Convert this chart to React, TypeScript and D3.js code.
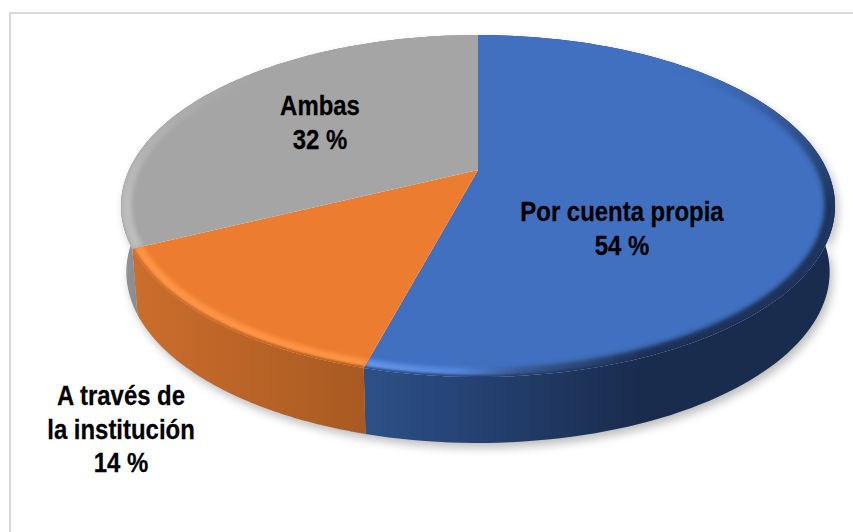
import React from "react";
import * as d3 from "d3";

const categories = ["Por cuenta propia", "A través de la institución", "Ambas"];
const values = [54.2, 13.6, 32.2];
const topColors = ["#4170C0", "#EC7C30", "#A5A5A5"];
const labelLines = [["Por cuenta propia", "54 %"], ["A través de", "la institución", "14 %"], ["Ambas", "32 %"]];
const labelAnchors: [number, number][] = [[622, 221], [121, 405], [320, 115]];

const W = 853, H = 532;
const cx = 478, rx = 357, depth = 66;
// Perspective map of the pie's unit circle onto the tilted ellipse
const c = -0.2105, a = 127.6, b = 170, k = rx * Math.sqrt(1 - c * c);
const apexY = b;

function project(angle: number, r = 1): [number, number] {
  const xp = r * Math.sin(angle), yp = -r * Math.cos(angle);
  const w = c * yp + 1;
  return [cx + (k * xp) / w, (a * yp + b) / w];
}
const arcPoints = (a0: number, a1: number, r = 1) =>
  d3.range(0, 1.0001, 1 / 120).map((t) => project(a0 + (a1 - a0) * t, r));
const line = d3.line<[number, number]>();

const pieGen = d3.pie<number>().sort(null).value((d) => d);
const slices = pieGen(values);

function sidePath(a0: number, a1: number) {
  const top = arcPoints(a0, a1);
  const bot = top.slice().reverse().map(([x, y]): [number, number] => [cx + (x - cx) * 0.985, y + depth]);
  return line([...top, ...bot])! + "Z";
}
const faceD = (a0: number, a1: number) => line([[cx, apexY], ...arcPoints(a0, a1)])! + "Z";
const rimD = (a0: number, a1: number, r: number) => line(arcPoints(a0, a1, r))!;

const sideGrads = [
  { id: "side0", stops: [[0, "#2D5188"], [0.287, "#233E6C"], [0.58, "#1A2C4E"], [1, "#1A2C4E"]] },
  { id: "side1", stops: [[0, "#CC6E2C"], [1, "#A85A22"]] },
  { id: "side2", stops: [[0, "#959595"], [1, "#8A8A8A"]] },
];
const rimGrads = [
  { id: "rim0", stops: [[0, "#6595EC"], [0.2, "#5584DA"], [0.33, "#37598F"], [0.58, "#1F3358"], [1, "#1F3358"]] },
  { id: "rim1", stops: [[0, "#FF9444"], [1, "#FF9444"]] },
  { id: "rim2", stops: [[0, "#BEBEBE"], [1, "#ADADAD"]] },
];

export default function App() {
  return (
    <svg width={W} height={H} style={{ position: "absolute", left: 0, top: 0, background: "#fff" }}>
      <defs>
        <filter id="blurS" x="-10%" y="-10%" width="120%" height="120%"><feGaussianBlur stdDeviation="5" /></filter>
        <filter id="blurR" x="-10%" y="-10%" width="120%" height="120%"><feGaussianBlur stdDeviation="2.2" /></filter>
        <filter id="blurE" x="-10%" y="-10%" width="120%" height="120%"><feGaussianBlur stdDeviation="1.1" /></filter>
        {sideGrads.map((g, i) => (
          <linearGradient key={g.id} id={g.id} gradientUnits="userSpaceOnUse"
            x1={i === 0 ? 363 : i === 1 ? 130 : 120} x2={i === 0 ? 840 : i === 1 ? 365 : 140} y1={0} y2={0}>
            {g.stops.map(([o, col]) => <stop key={String(o)} offset={o as number} stopColor={col as string} />)}
          </linearGradient>
        ))}
        {rimGrads.map((g, i) => (
          <linearGradient key={g.id} id={g.id} gradientUnits="userSpaceOnUse"
            x1={i === 0 ? 363 : i === 1 ? 130 : 120} x2={i === 0 ? 840 : i === 1 ? 365 : 480} y1={0} y2={0}>
            {g.stops.map(([o, col]) => <stop key={String(o)} offset={o as number} stopColor={col as string} />)}
          </linearGradient>
        ))}
        <linearGradient id="fadeUp" gradientUnits="userSpaceOnUse" x1={0} x2={0} y1={70} y2={205}>
          <stop offset={0} stopColor="#000" />
          <stop offset={1} stopColor="#fff" />
        </linearGradient>
        <mask id="rimMask" maskUnits="userSpaceOnUse" x={0} y={0} width={W} height={H}>
          <rect x={0} y={0} width={W} height={H} fill="url(#fadeUp)" />
        </mask>
        {slices.map((s, i) => <clipPath key={i} id={`face${i}`}><path d={faceD(s.startAngle, s.endAngle)} /></clipPath>)}
      </defs>
      <rect x={0} y={0} width={W} height={H} fill="#fff" />
      <path d={`M10,${H}V13H${W}`} fill="none" stroke="#D9D9D9" strokeWidth={2} />
      <path d={sidePath(0, 2 * Math.PI)} transform="translate(3,5)" fill="#000" opacity={0.26} filter="url(#blurS)" />
      {slices.map((s, i) => <path key={i} d={sidePath(s.startAngle, s.endAngle)} fill={`url(#side${i})`} />)}
      {slices.map((s, i) => (
        <g key={categories[i]}>
          <path d={faceD(s.startAngle, s.endAngle)} fill={topColors[i]} />
          <g clipPath={`url(#face${i})`}>
            <g mask="url(#rimMask)">
              <path d={rimD(s.startAngle, s.endAngle, 0.985)} fill="none" stroke={`url(#rim${i})`} strokeWidth={10} filter="url(#blurR)" />
              {i < 2 && (
                <path d={rimD(s.startAngle, s.endAngle, 1)} fill="none" stroke={`url(#side${i})`} strokeWidth={4} filter="url(#blurE)" />
              )}
            </g>
          </g>
        </g>
      ))}
      {labelLines.map((lines, i) =>
        lines.map((t, j) => (
          <text key={`${i}-${j}`} textAnchor="middle"
            transform={`translate(${labelAnchors[i][0]},${labelAnchors[i][1] + j * 33.5}) scale(0.92,1.08)`}
            fontFamily="'Liberation Sans',Arial,sans-serif" fontWeight="bold" fontSize={26} fill="#000"
            stroke="#000" strokeWidth={0.25}>
            {t}
          </text>
        ))
      )}
    </svg>
  );
}
